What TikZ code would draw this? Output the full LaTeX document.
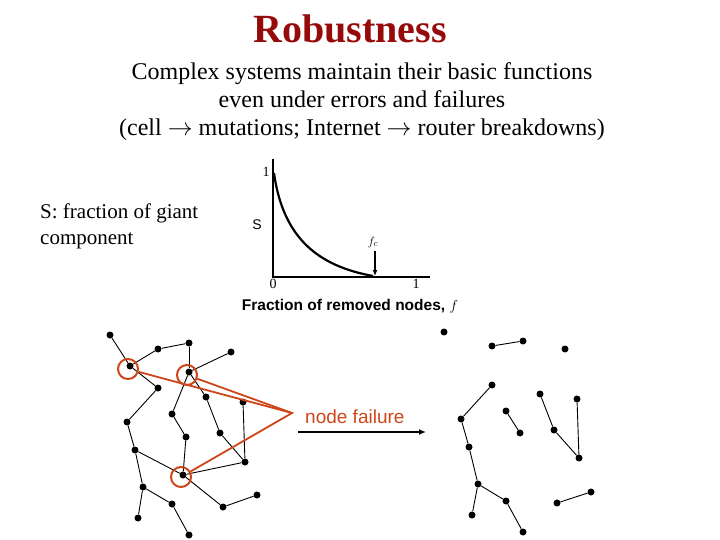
\documentclass[tikz,border=0pt]{standalone}
\usepackage{fontspec}
\setmainfont{Liberation Serif}
\setsansfont{Liberation Sans}
\usepackage{xcolor}
\usetikzlibrary{arrows.meta, positioning}
\definecolor{titlered}{RGB}{150,10,10}
\definecolor{failred}{RGB}{205,70,25}

\begin{document}
\begin{tikzpicture}[x=1pt, y=-1pt, every node/.style={inner sep=0pt},
    dot/.style={circle, fill=black, minimum size=7pt, inner sep=0pt},
    link/.style={line width=0.9pt},
    hit/.style={circle, draw=failred, line width=2pt, minimum size=20pt},
    axis/.style={line width=2.8pt}]
    \useasboundingbox (0,0) rectangle (720,540);

    % header
    \node[anchor=base, font=\fontsize{40}{44}\selectfont\bfseries, text=titlered] (title) at (350,43) {Robustness};
    \node[align=center, font=\fontsize{24}{28}\selectfont] (intro) at (362,102) {Complex systems maintain their basic functions\\even under errors and failures\\(cell $\rightarrow$ mutations; Internet $\rightarrow$ router breakdowns)};
    \node[anchor=north west, align=left, font=\fontsize{21}{26}\selectfont] (slabel) at (40,204) {S: fraction of giant\\component};

    % giant component plot
    \coordinate (o) at (273,277);
    \coordinate (ytop) at (273,159);
    \coordinate (xend) at (430,277);
    \draw[axis] (ytop) -- (o) -- (xend);
    \draw[line width=2.2pt] (274,173) .. controls (283,238) and (318,266) .. (373,276);
    \node[font=\fontsize{14}{16}\selectfont] (one) at (266,172) {1};
    \node[font=\sffamily\fontsize{14}{16}\selectfont] (s) at (257,225) {S};
    \node[font=\fontsize{14}{16}\selectfont] (zero) at (273,284) {0};
    \node[font=\fontsize{14}{16}\selectfont] (onex) at (416,284) {1};
    \node[font=\fontsize{13}{15}\selectfont] (fc) at (373,242) {$f_c$};
    \coordinate (fctop) at (375,251);
    \coordinate (fcbot) at (375,276);
    \draw[line width=2.4pt, -{Latex[length=6pt, width=5pt]}] (fctop) -- (fcbot);
    \node[anchor=base, font=\sffamily\bfseries\fontsize{15.5}{18}\selectfont] (xlabel) at (350,310) {Fraction of removed nodes, $f$};

    % network before failure
    \foreach \n/\x/\y in {l1/110/335, l2/130/366, l3/158/349, l4/189/343, l5/231/352,
        l6/189/372, l7/158/388, l8/127/422, l9/172/414, l10/206/397, l11/243/402,
        l12/186/437, l13/220/433, l14/135/450, l15/245/462, l16/183/475, l17/143/487,
        l18/172/504, l19/138/518, l20/223/507, l21/257/495, l22/189/535}
        \node[dot] (\n) at (\x,\y) {};
    \foreach \u/\v in {l1/l2, l2/l3, l3/l4, l4/l6, l6/l5, l2/l7, l7/l8, l6/l9, l6/l10,
        l9/l12, l12/l16, l10/l13, l13/l15, l11/l15, l8/l14, l14/l16, l14/l17, l16/l15,
        l17/l18, l17/l19, l18/l22, l16/l20, l20/l21}
        \draw[link] (\u) -- (\v);

    % failed nodes
    \node[hit] (hitA) at (128,369) {};
    \node[hit] (hitB) at (187,375) {};
    \node[hit] (hitC) at (181,477) {};
    \coordinate (apex) at (292,413);
    \draw[failred, line width=1.8pt] (hitA) -- (apex) -- (hitC);
    \draw[failred, line width=1.8pt] (hitB) -- (apex);

    \node[anchor=base west, font=\sffamily\fontsize{19}{22}\selectfont, text=failred] (failure) at (305,423) {node failure};
    \coordinate (go) at (298,432);
    \coordinate (arrive) at (426,432);
    \draw[line width=2pt, -{Latex[length=7pt, width=6pt]}] (go) -- (arrive);

    % network after failure
    \foreach \n/\x/\y in {r1/444/332, r2/492/346, r3/523/341, r4/565/349, r5/492/385,
        r6/461/419, r7/506/411, r8/520/433, r9/540/394, r10/577/399, r11/554/430,
        r12/579/458, r13/469/447, r14/478/484, r15/506/501, r16/472/515, r17/523/532,
        r18/557/503, r19/591/492}
        \node[dot] (\n) at (\x,\y) {};
    \foreach \u/\v in {r2/r3, r5/r6, r6/r13, r13/r14, r14/r15, r14/r16, r15/r17,
        r7/r8, r9/r11, r11/r12, r10/r12, r18/r19}
        \draw[link] (\u) -- (\v);
\end{tikzpicture}
\end{document}
